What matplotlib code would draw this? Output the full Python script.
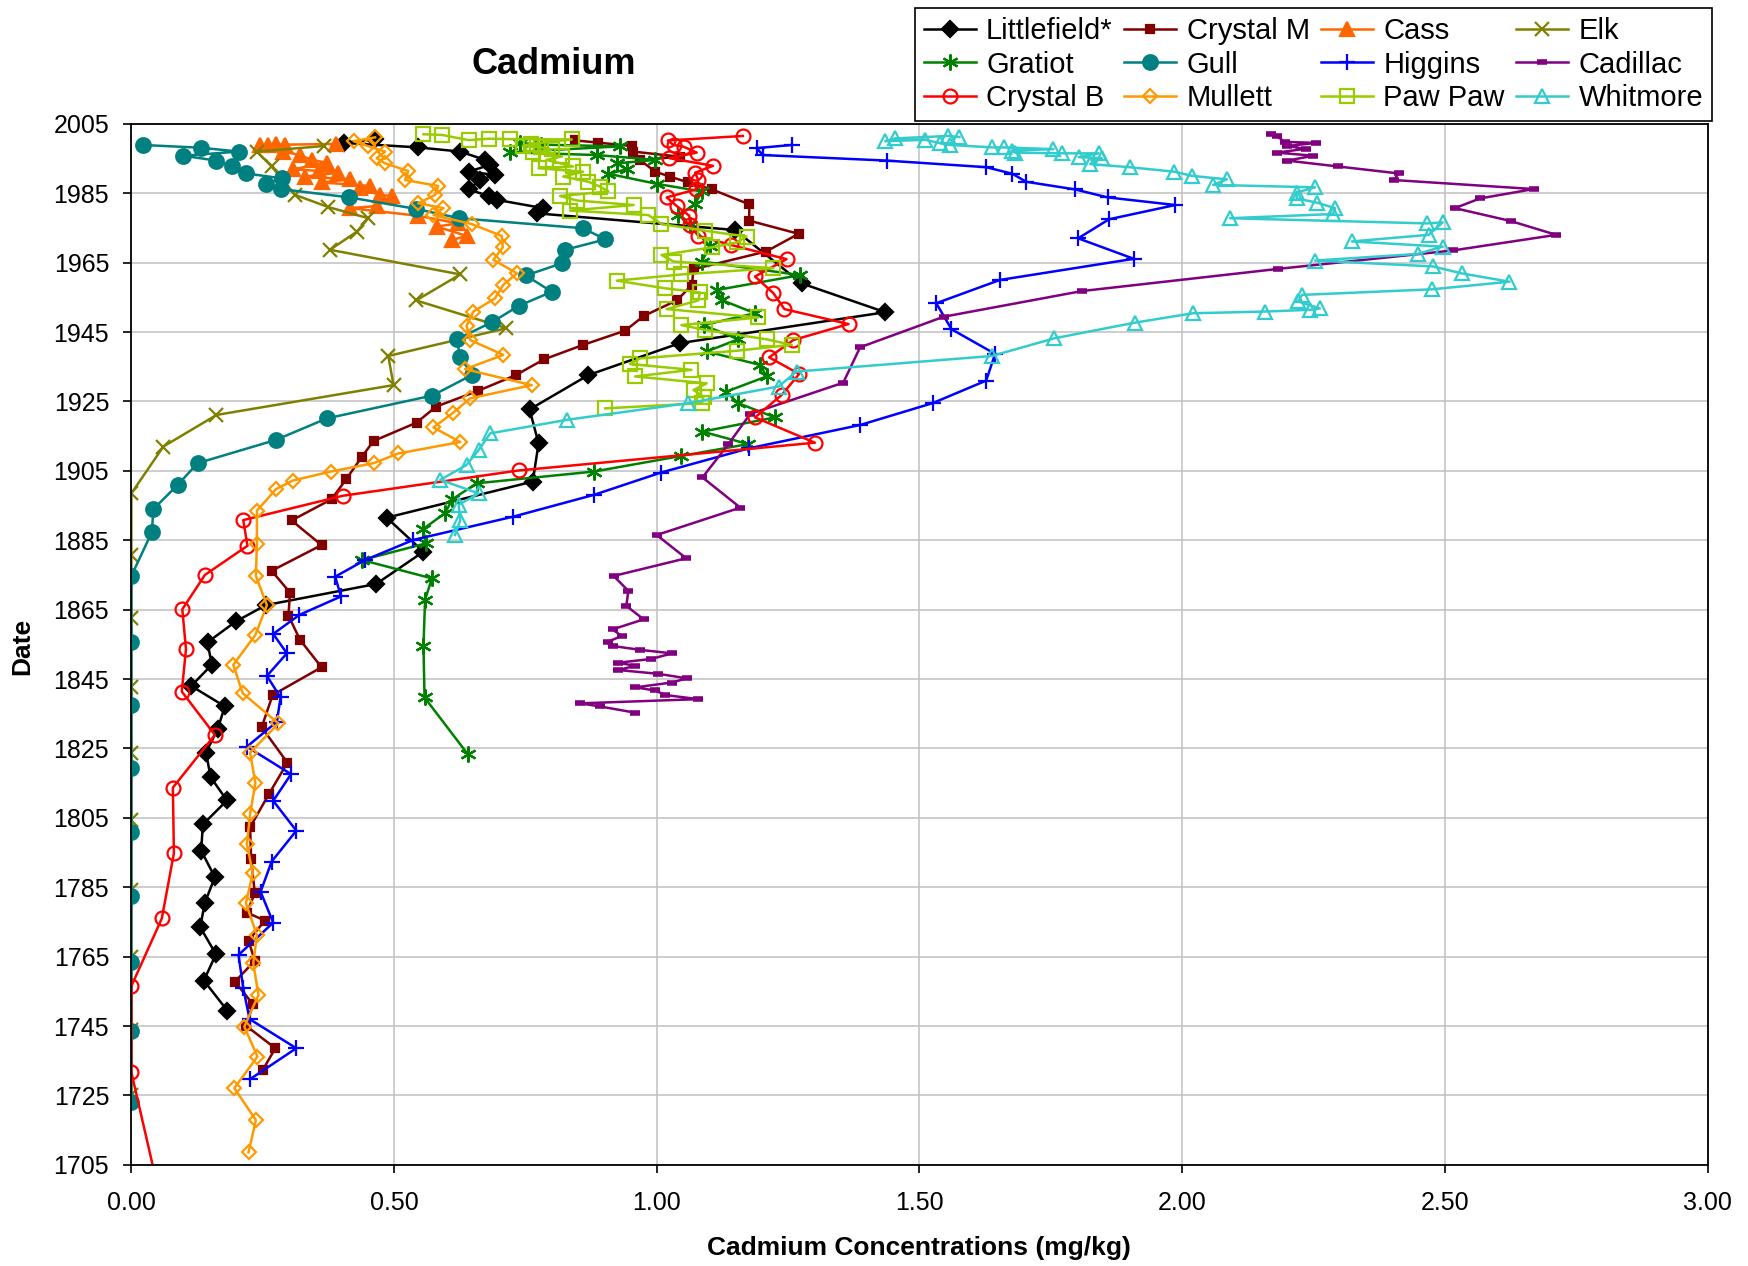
import matplotlib
matplotlib.use("Agg")
import matplotlib.pyplot as plt
from matplotlib.ticker import FormatStrFormatter

plt.rcParams["font.family"] = ["Liberation Sans", "DejaVu Sans"]

# core profiles: (year, cadmium mg/kg)
littlefield_yr = [2000.5, 1999.5, 1998.2, 1997.0, 1994.6, 1993.2, 1991.2, 1990.3, 1988.8, 1986.1,
                  1984.2, 1983.1, 1980.7, 1979.2, 1974.4, 1959.0, 1950.7, 1941.8, 1932.6, 1922.7,
                  1912.9, 1901.9, 1891.5, 1881.7, 1872.4, 1866.3, 1861.6, 1855.6, 1849.1, 1843.0,
                  1837.1, 1830.5, 1823.8, 1816.7, 1810.0, 1803.1, 1795.5, 1787.9, 1780.6, 1773.5,
                  1765.7, 1758.1, 1749.4]
littlefield_cd = [0.463, 0.404, 0.546, 0.626, 0.673, 0.683, 0.642, 0.692, 0.664, 0.642,
                  0.680, 0.695, 0.784, 0.772, 1.149, 1.276, 1.435, 1.044, 0.870, 0.758,
                  0.775, 0.764, 0.486, 0.556, 0.466, 0.256, 0.199, 0.145, 0.153, 0.114,
                  0.178, 0.164, 0.142, 0.151, 0.182, 0.136, 0.133, 0.159, 0.140, 0.131,
                  0.161, 0.138, 0.183]

crystal_m_yr = [2000.2, 1999.6, 1998.6, 1997.0, 1995.5, 1994.6, 1991.2, 1989.8, 1988.1, 1986.1,
                1981.8, 1977.1, 1973.3, 1968.2, 1963.1, 1958.6, 1954.2, 1949.6, 1945.4, 1941.3,
                1937.1, 1932.6, 1928.0, 1923.5, 1918.9, 1913.6, 1909.1, 1902.6, 1896.8, 1890.7,
                1883.6, 1876.2, 1869.9, 1863.3, 1856.3, 1848.4, 1840.4, 1831.1, 1820.9, 1811.9,
                1802.3, 1793.0, 1783.3, 1777.7, 1775.4, 1769.6, 1763.8, 1757.8, 1751.4, 1745.0,
                1738.6, 1732.3]
crystal_m_cd = [0.845, 0.888, 0.952, 0.955, 1.045, 0.968, 0.997, 1.025, 1.060, 1.105,
                1.176, 1.176, 1.270, 1.208, 1.070, 1.067, 1.039, 0.975, 0.940, 0.860,
                0.785, 0.732, 0.659, 0.580, 0.543, 0.461, 0.439, 0.409, 0.381, 0.305,
                0.362, 0.267, 0.302, 0.299, 0.321, 0.362, 0.269, 0.248, 0.297, 0.262,
                0.226, 0.228, 0.235, 0.220, 0.254, 0.223, 0.235, 0.197, 0.231, 0.219,
                0.274, 0.250]

cass_yr = [1999.2, 1999.0, 1999.1, 1998.8, 1998.9, 1997.0, 1996.0, 1994.6, 1993.8, 1991.9,
           1991.4, 1990.9, 1989.8, 1989.0, 1988.1, 1987.1, 1986.4, 1984.5, 1984.2, 1981.3,
           1980.7, 1978.5, 1976.3, 1975.4, 1972.7, 1971.5]
cass_cd = [0.390, 0.293, 0.275, 0.261, 0.245, 0.289, 0.321, 0.343, 0.372, 0.308,
           0.358, 0.394, 0.331, 0.416, 0.362, 0.454, 0.435, 0.473, 0.496, 0.467,
           0.416, 0.546, 0.622, 0.581, 0.638, 0.610]

elk_yr = [1998.6, 1997.0, 1992.7, 1984.5, 1981.0, 1977.8, 1973.9, 1968.7, 1961.6, 1954.1,
          1946.1, 1938.1, 1929.7, 1921.1, 1912.0, 1898.5, 1880.8, 1862.5, 1842.8, 1823.6,
          1804.4, 1784.2, 1765.0, 1743.9, 1725.1]
elk_cd = [0.366, 0.239, 0.267, 0.312, 0.375, 0.451, 0.429, 0.378, 0.626, 0.542,
          0.714, 0.489, 0.499, 0.162, 0.061, 0.0, 0.0, 0.0, 0.0, 0.0,
          0.0, 0.0, 0.0, 0.0, 0.0]

gratiot_yr = [1999.5, 1999.0, 1998.5, 1996.8, 1996.0, 1994.6, 1993.6, 1991.9, 1990.6, 1987.7,
              1985.5, 1981.9, 1978.7, 1975.9, 1969.8, 1965.3, 1961.4, 1957.1, 1954.2, 1950.4,
              1947.0, 1942.9, 1939.4, 1935.5, 1932.2, 1927.8, 1924.5, 1920.4, 1916.3, 1912.7,
              1909.3, 1904.8, 1901.4, 1896.8, 1892.8, 1888.2, 1884.1, 1879.3, 1874.0, 1867.8,
              1854.5, 1839.7, 1823.4]
gratiot_cd = [0.740, 0.780, 0.930, 0.720, 0.886, 0.997, 0.924, 0.943, 0.908, 1.000,
              1.086, 1.073, 1.041, 1.063, 1.101, 1.086, 1.273, 1.114, 1.124, 1.187,
              1.089, 1.155, 1.095, 1.197, 1.209, 1.132, 1.155, 1.225, 1.087, 1.174,
              1.047, 0.881, 0.657, 0.611, 0.597, 0.555, 0.561, 0.439, 0.572, 0.559,
              0.556, 0.558, 0.640]

gull_yr = [1998.9, 1998.1, 1997.0, 1995.8, 1994.4, 1992.7, 1990.7, 1989.3, 1987.7, 1986.2,
           1983.8, 1980.5, 1977.8, 1974.9, 1971.7, 1968.7, 1964.8, 1961.3, 1956.6, 1952.5,
           1947.8, 1942.9, 1937.9, 1932.6, 1926.7, 1920.1, 1913.9, 1907.2, 1900.9, 1894.0,
           1887.3, 1874.7, 1855.8, 1837.5, 1819.3, 1801.0, 1782.5, 1763.5, 1743.7, 1723.2]
gull_cd = [0.022, 0.133, 0.204, 0.099, 0.162, 0.192, 0.218, 0.286, 0.256, 0.284,
           0.415, 0.541, 0.624, 0.860, 0.902, 0.826, 0.819, 0.751, 0.800, 0.737,
           0.686, 0.619, 0.626, 0.648, 0.573, 0.372, 0.275, 0.126, 0.088, 0.042,
           0.039, 0.0, 0.0, 0.0, 0.0, 0.0, 0.0, 0.0, 0.0, 0.0]

higgins_yr = [1998.9, 1998.0, 1996.0, 1994.4, 1992.5, 1990.6, 1988.3, 1986.1, 1983.8, 1981.6,
              1977.5, 1972.0, 1966.1, 1960.0, 1953.3, 1945.8, 1938.7, 1931.0, 1924.5, 1918.2,
              1911.5, 1904.5, 1898.1, 1891.8, 1885.1, 1879.3, 1874.5, 1868.8, 1863.5, 1858.0,
              1852.4, 1845.9, 1839.7, 1832.7, 1825.5, 1817.6, 1809.9, 1801.3, 1792.4, 1783.7,
              1774.8, 1765.5, 1755.9, 1747.0, 1738.6, 1729.7]
higgins_cd = [1.257, 1.190, 1.202, 1.438, 1.627, 1.677, 1.703, 1.796, 1.858, 1.987,
              1.861, 1.802, 1.908, 1.653, 1.532, 1.561, 1.644, 1.627, 1.525, 1.387,
              1.176, 1.008, 0.881, 0.727, 0.537, 0.445, 0.388, 0.399, 0.320, 0.270,
              0.296, 0.258, 0.284, 0.277, 0.220, 0.304, 0.270, 0.314, 0.267, 0.246,
              0.270, 0.204, 0.213, 0.225, 0.314, 0.226]

cadillac_yr = [2002.0, 2001.5, 1999.8, 1999.5, 1998.6, 1997.8, 1996.7, 1995.8, 1994.4, 1992.7,
               1990.7, 1988.8, 1986.2, 1983.5, 1980.7, 1977.0, 1973.0, 1968.5, 1963.2, 1956.8,
               1949.4, 1940.6, 1930.4, 1921.4, 1912.6, 1903.1, 1894.4, 1886.5, 1879.8, 1874.7,
               1870.4, 1866.1, 1862.2, 1859.3, 1857.4, 1855.8, 1854.5, 1853.4, 1852.4, 1850.8,
               1849.7, 1848.8, 1847.6, 1846.5, 1845.2, 1844.0, 1842.6, 1841.7, 1840.4, 1839.2,
               1838.0, 1837.1, 1835.3]
cadillac_cd = [2.170, 2.180, 2.195, 2.255, 2.200, 2.235, 2.180, 2.250, 2.200, 2.297,
               2.412, 2.403, 2.669, 2.567, 2.519, 2.625, 2.712, 2.515, 2.183, 1.809,
               1.546, 1.387, 1.355, 1.178, 1.136, 1.087, 1.159, 1.000, 1.056, 0.918,
               0.946, 0.942, 0.975, 0.916, 0.933, 0.908, 0.917, 0.969, 1.029, 0.990,
               0.927, 0.959, 0.927, 1.003, 1.057, 1.029, 0.959, 0.997, 1.016, 1.079,
               0.854, 0.892, 0.959]

crystal_b_yr = [2001.5, 2000.2, 1998.9, 1998.4, 1996.7, 1995.1, 1992.9, 1990.9, 1988.8, 1986.1,
                1983.8, 1981.3, 1978.5, 1975.9, 1972.7, 1970.1, 1966.0, 1961.0, 1956.2, 1951.6,
                1947.3, 1942.7, 1937.7, 1932.9, 1926.9, 1920.4, 1913.1, 1905.1, 1897.8, 1890.8,
                1883.4, 1875.0, 1865.1, 1853.6, 1841.4, 1828.9, 1813.7, 1794.8, 1776.0, 1756.5,
                1731.7, 1700.0]
crystal_b_cd = [1.164, 1.021, 1.032, 1.051, 1.076, 1.024, 1.107, 1.073, 1.079, 1.075,
                1.019, 1.038, 1.062, 1.063, 1.079, 1.141, 1.247, 1.187, 1.222, 1.243,
                1.365, 1.260, 1.214, 1.271, 1.238, 1.187, 1.301, 0.737, 0.402, 0.213,
                0.221, 0.140, 0.097, 0.104, 0.096, 0.159, 0.079, 0.081, 0.058, 0.0,
                0.0, 0.048]

mullett_yr = [2001.1, 2000.0, 1998.6, 1997.0, 1995.1, 1993.6, 1991.4, 1988.8, 1987.1, 1984.5,
              1982.1, 1980.7, 1978.7, 1976.1, 1972.7, 1969.4, 1965.8, 1961.9, 1958.6, 1954.7,
              1950.9, 1946.8, 1942.7, 1938.4, 1934.3, 1929.7, 1925.9, 1921.8, 1917.5, 1913.3,
              1910.0, 1907.2, 1904.8, 1902.2, 1899.7, 1893.5, 1883.9, 1874.7, 1866.3, 1857.7,
              1849.1, 1840.9, 1832.2, 1823.8, 1815.0, 1806.1, 1797.5, 1789.0, 1780.4, 1771.2,
              1763.1, 1754.0, 1744.8, 1736.2, 1727.1, 1717.9, 1708.6]
mullett_cd = [0.464, 0.423, 0.450, 0.483, 0.467, 0.483, 0.527, 0.521, 0.584, 0.578,
              0.546, 0.594, 0.575, 0.648, 0.705, 0.707, 0.689, 0.734, 0.708, 0.692,
              0.651, 0.638, 0.645, 0.708, 0.635, 0.762, 0.645, 0.613, 0.575, 0.626,
              0.508, 0.461, 0.380, 0.307, 0.275, 0.239, 0.239, 0.237, 0.258, 0.236,
              0.194, 0.212, 0.280, 0.226, 0.236, 0.226, 0.220, 0.231, 0.218, 0.239,
              0.232, 0.242, 0.215, 0.240, 0.196, 0.237, 0.223]

pawpaw_yr = [2002.0, 2001.8, 2000.3, 2000.7, 2000.6, 2000.5, 1999.2, 1998.6, 1998.2, 1997.6,
             1996.8, 1995.6, 1994.6, 1992.7, 1992.2, 1991.2, 1989.8, 1988.3, 1986.9, 1985.5,
             1984.2, 1982.9, 1981.6, 1980.0, 1978.7, 1976.1, 1974.2, 1972.5, 1970.8, 1969.4,
             1967.2, 1965.3, 1963.4, 1961.6, 1959.8, 1957.6, 1956.4, 1954.1, 1951.6, 1949.2,
             1947.0, 1945.6, 1942.9, 1941.3, 1939.6, 1937.4, 1935.8, 1934.1, 1932.2, 1930.2,
             1928.3, 1926.4, 1924.5, 1923.0]
pawpaw_cd = [0.556, 0.591, 0.642, 0.680, 0.721, 0.838, 0.760, 0.745, 0.780, 0.800,
             0.765, 0.820, 0.790, 0.841, 0.775, 0.860, 0.822, 0.870, 0.892, 0.908,
             0.816, 0.848, 0.956, 0.835, 0.984, 1.009, 1.092, 1.171, 1.152, 1.105,
             1.009, 1.032, 1.222, 1.047, 0.924, 1.016, 1.082, 1.079, 1.019, 1.193,
             1.047, 1.092, 1.209, 1.257, 1.152, 0.968, 0.949, 1.066, 0.959, 1.095,
             1.070, 1.089, 1.086, 0.902]

whitmore_yr = [2001.2, 2001.5, 2000.8, 2000.0, 2000.4, 1999.4, 1998.9, 1998.2, 1998.2, 1997.7,
               1997.3, 1996.7, 1996.5, 1996.5, 1995.4, 1995.1, 1993.4, 1992.5, 1991.2, 1990.0,
               1989.0, 1987.4, 1986.7, 1985.2, 1983.5, 1982.3, 1980.7, 1979.0, 1977.8, 1976.3,
               1976.6, 1973.0, 1971.1, 1969.6, 1967.5, 1965.6, 1963.9, 1961.9, 1959.5, 1957.3,
               1955.7, 1953.8, 1951.8, 1951.4, 1950.9, 1950.4, 1947.7, 1943.2, 1938.1, 1933.6,
               1929.3, 1924.5, 1919.7, 1915.8, 1911.0, 1906.7, 1902.4, 1898.5, 1895.2, 1890.8,
               1886.5]
whitmore_cd = [1.576, 1.555, 1.454, 1.435, 1.511, 1.540, 1.558, 1.639, 1.660, 1.755,
               1.676, 1.682, 1.771, 1.841, 1.803, 1.847, 1.825, 1.900, 1.985, 2.019,
               2.085, 2.059, 2.253, 2.218, 2.218, 2.256, 2.291, 2.287, 2.091, 2.466,
               2.496, 2.469, 2.323, 2.496, 2.448, 2.253, 2.477, 2.532, 2.623, 2.475,
               2.228, 2.221, 2.262, 2.243, 2.158, 2.020, 1.910, 1.757, 1.638, 1.266,
               1.232, 1.060, 0.829, 0.683, 0.661, 0.638, 0.588, 0.661, 0.623, 0.626,
               0.616]

# name, values, years, colour, marker, size, filled
series = [
    ("Littlefield*", littlefield_cd, littlefield_yr, "#000000", "D", 8.5, True),
    ("Crystal M", crystal_m_cd, crystal_m_yr, "#800000", "s", 6, True),
    ("Cass", cass_cd, cass_yr, "#FF6600", "^", 10.5, True),
    ("Elk", elk_cd, elk_yr, "#808000", "x", 10.5, True),
    ("Gratiot", gratiot_cd, gratiot_yr, "#008000", (6, 2, 0), 11.5, True),
    ("Gull", gull_cd, gull_yr, "#008080", "o", 10.5, True),
    ("Higgins", higgins_cd, higgins_yr, "#0000FF", "+", 11.5, True),
    ("Cadillac", cadillac_cd, cadillac_yr, "#800080", "_", 6.5, True),
    ("Crystal B", crystal_b_cd, crystal_b_yr, "#FF0000", "o", 10, False),
    ("Mullett", mullett_cd, mullett_yr, "#FF9900", "D", 7.5, False),
    ("Paw Paw", pawpaw_cd, pawpaw_yr, "#99CC00", "s", 9.5, False),
    ("Whitmore", whitmore_cd, whitmore_yr, "#33CCCC", "^", 10.5, False),
]

fig = plt.figure(figsize=(17.49, 12.66), dpi=100)
ax = fig.add_axes([0.0751, 0.0799, 0.9012, 0.8223])

handles = []
for name, cd, yr, color, marker, ms, filled in series:
    mew = 1.6
    if marker == "_":
        mew = 4
    line, = ax.plot(cd, yr, color=color, lw=1.8, marker=marker, ms=ms,
                    mfc=color if filled else "none", mec=color, mew=mew,
                    label=name, clip_on=True)
    handles.append(line)

ax.set_xlim(0, 3)
ax.set_ylim(1705, 2005)
ax.set_xticks([0, 0.5, 1.0, 1.5, 2.0, 2.5, 3.0])
ax.set_yticks(range(1705, 2006, 20))
ax.xaxis.set_major_formatter(FormatStrFormatter("%.2f"))
ax.grid(True, color="#c0c0c0", lw=1.1)
ax.set_axisbelow(True)
for sp in ax.spines.values():
    sp.set_color("black")
    sp.set_linewidth(1.3)
ax.tick_params(axis="x", direction="out", length=6, width=1.2, pad=13, labelsize=18)
ax.tick_params(axis="y", direction="out", length=6, width=1.2, pad=10, labelsize=18)

fig.text(554 / 1749, 1 - 64 / 1266, "Cadmium", fontsize=26, fontweight="bold",
         ha="center", va="center")
fig.text(919 / 1749, 1 - 1255 / 1266, "Cadmium Concentrations (mg/kg)", fontsize=19,
         fontweight="bold", ha="center", va="baseline")
fig.text(22 / 1749, 1 - 646 / 1266, "Date", fontsize=19, fontweight="bold",
         rotation=90, ha="center", va="center")

# legend reads row by row: reorder for column-major filling
order = [0, 4, 8, 1, 5, 9, 2, 6, 10, 3, 7, 11]
leg = fig.legend([handles[i] for i in order], [series[i][0] for i in order],
                 loc="upper right", bbox_to_anchor=(1712 / 1749, 1 - 8 / 1266),
                 ncol=4, fontsize=21, frameon=True, fancybox=False, framealpha=1,
                 edgecolor="black", borderpad=0.3, labelspacing=0.2,
                 handlelength=1.78, handletextpad=0.35, columnspacing=0.4,
                 borderaxespad=0)
leg.get_frame().set_linewidth(1.2)

fig.savefig("out.png", dpi=100)
